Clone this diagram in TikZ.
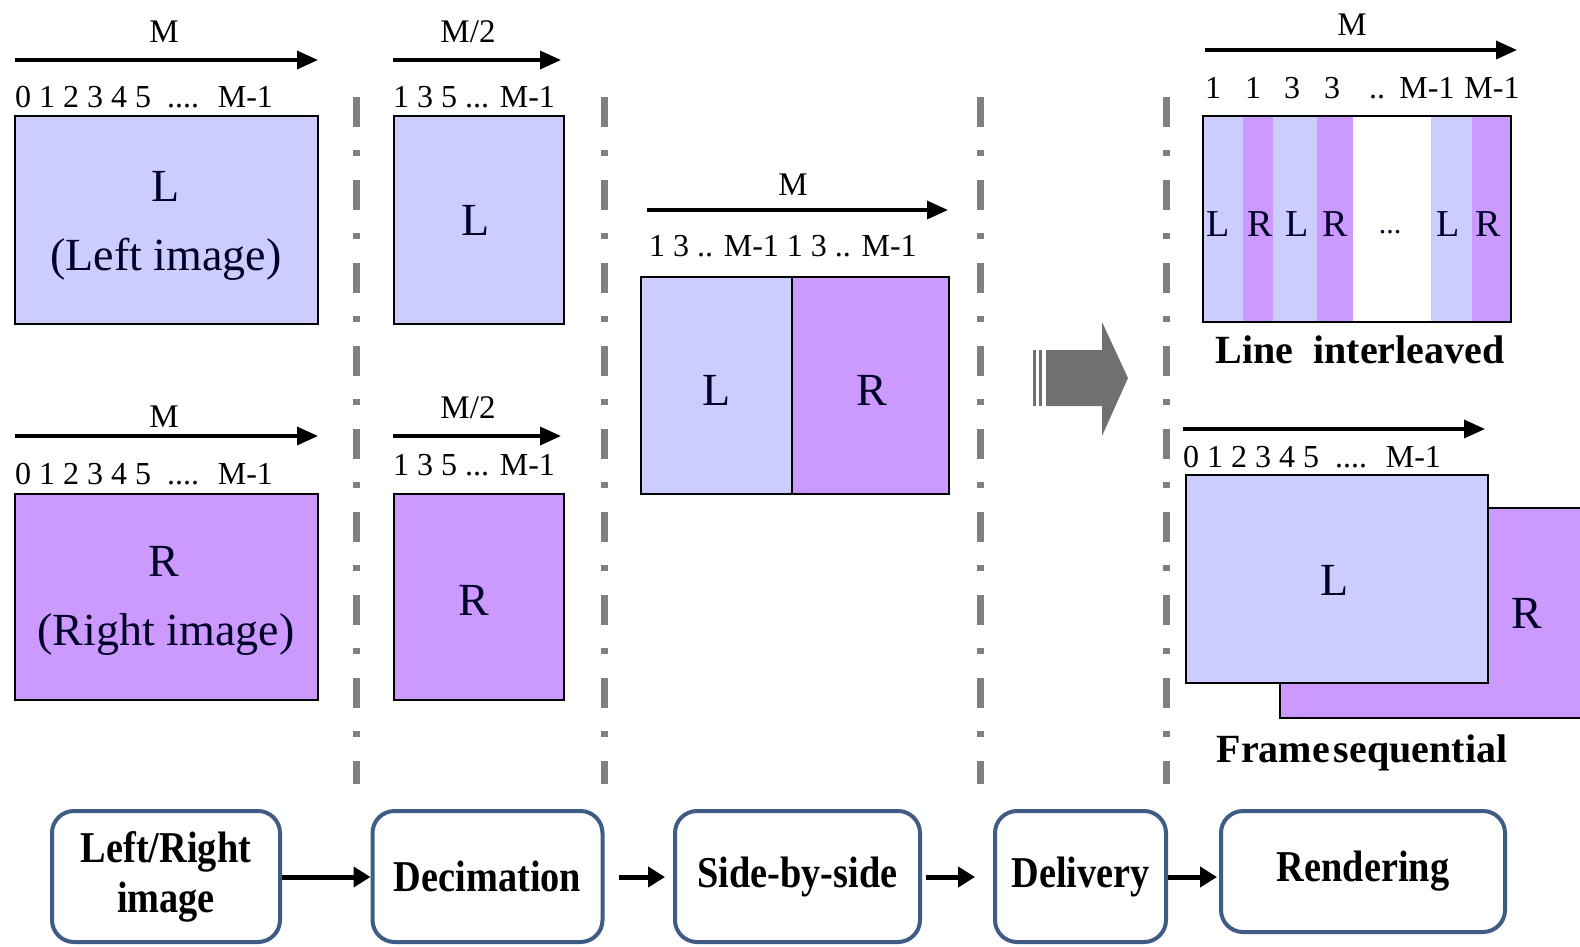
\documentclass[tikz,border=0pt]{standalone}
\usepackage{fontspec}
\setmainfont{Liberation Serif}
\newfontfamily\condfont{Liberation Serif}[FakeStretch=0.87]
\usetikzlibrary{arrows.meta}
\definecolor{lcol}{RGB}{204,204,255}
\definecolor{rcol}{RGB}{204,153,255}
\definecolor{flowcol}{RGB}{62,92,132}
\definecolor{sepcol}{RGB}{128,128,128}
\definecolor{bigarrowcol}{RGB}{112,112,112}
\newcommand\mysz[1]{\fontsize{#1}{#1}\selectfont}
\begin{document}
\begin{tikzpicture}[x=1pt,y=-1pt,
  axislabel/.style={font=\mysz{33}, inner sep=0},
  numlabel/.style={font=\mysz{32}, inner sep=0, anchor=west},
  numc/.style={font=\mysz{32}, inner sep=0},
  biglabel/.style={font=\mysz{46}, inner sep=0, text=black!85!blue},
  midlabel/.style={font=\mysz{38}, inner sep=0, text=black!85!blue},
  dimarrow/.style={line width=3.5pt, -{Triangle[length=21pt,width=18pt]}},
  imgbox/.style={draw=black, line width=2pt},
  sepline/.style={draw=sepcol, line width=7pt, dash pattern=on 30pt off 23pt on 6pt off 24pt},
  flow/.style={draw=flowcol, line width=4pt, rounded corners=22pt, font=\condfont\bfseries\mysz{44}, align=center, fill=white, inner sep=0},
  flowarrow/.style={line width=5pt, -{Triangle[length=17pt,width=20pt]}},
  caption/.style={font=\bfseries\mysz{40}, inner sep=0}
]
\useasboundingbox (0,0) rectangle (1580,946);
\clip (0,0) rectangle (1580,946);
\fill[white] (0,0) rectangle (1580,946);

% separators
\draw[sepline] (356,97) -- (356,784);
\draw[sepline] (604,97) -- (604,784);
\draw[sepline] (980,97) -- (980,784);
\draw[sepline] (1166,97) -- (1166,784);

% ---- Left/right images
\node[axislabel] (mL) at (164,32) {M};
\coordinate (aL1) at (15,60); \coordinate (aL2) at (318,60);
\draw[dimarrow] (aL1) -- (aL2);
\node[numlabel] (nL) at (15,97) {0 1 2 3 4 5\hspace{8pt} ....\hspace{8pt} M-1};
\draw[imgbox, fill=lcol] (15,116) rectangle (318,324);
\node[biglabel] (tL) at (166,186) {L};
\node[biglabel] (tLi) at (166,259) {(Left image)};

\node[axislabel] (mR) at (164,417) {M};
\coordinate (aR1) at (15,436); \coordinate (aR2) at (318,436);
\draw[dimarrow] (aR1) -- (aR2);
\node[numlabel] (nR) at (15,474) {0 1 2 3 4 5\hspace{8pt} ....\hspace{8pt} M-1};
\draw[imgbox, fill=rcol] (15,494) rectangle (318,700);
\node[biglabel] (tR) at (164,561) {R};
\node[biglabel] (tRi) at (166,634) {(Right image)};

% ---- Decimation
\node[axislabel] (mdL) at (468,32) {M/2};
\coordinate (adL1) at (393,60); \coordinate (adL2) at (561,60);
\draw[dimarrow] (adL1) -- (adL2);
\node[numlabel] (ndL) at (393,97) {1 3 5 ... M-1};
\draw[imgbox, fill=lcol] (394,116) rectangle (564,324);
\node[biglabel] (tdL) at (476,220) {L};

\node[axislabel] (mdR) at (468,408) {M/2};
\coordinate (adR1) at (393,436); \coordinate (adR2) at (561,436);
\draw[dimarrow] (adR1) -- (adR2);
\node[numlabel] (ndR) at (393,465) {1 3 5 ... M-1};
\draw[imgbox, fill=rcol] (394,494) rectangle (564,700);
\node[biglabel] (tdR) at (474,600) {R};

% ---- Side-by-side
\node[axislabel] (ms) at (793,185) {M};
\coordinate (as1) at (647,210); \coordinate (as2) at (948,210);
\draw[dimarrow] (as1) -- (as2);
\node[numlabel] (ns) at (649,246) {1 3 .. M-1 1 3 .. M-1};
\fill[lcol] (641,277) rectangle (792,494);
\fill[rcol] (792,277) rectangle (949,494);
\draw[imgbox] (641,277) rectangle (949,494);
\draw[imgbox] (792,277) -- (792,494);
\node[biglabel] (tsL) at (717,390) {L};
\node[biglabel] (tsR) at (872,390) {R};

% ---- big arrow
\fill[bigarrowcol] (1046,350) -- (1102,350) -- (1102,322) -- (1128,378) -- (1102,436) -- (1102,406) -- (1046,406) -- cycle;
\fill[bigarrowcol] (1033,350) rectangle (1036,406);
\fill[bigarrowcol] (1038.5,350) rectangle (1042,406);

% ---- Line interleaved
\node[axislabel] (mi) at (1352,25) {M};
\coordinate (ai1) at (1205,50); \coordinate (ai2) at (1517,50);
\draw[dimarrow] (ai1) -- (ai2);
\node[numc] (ni1) at (1213,88) {1};
\node[numc] (ni2) at (1253,88) {1};
\node[numc] (ni3) at (1292,88) {3};
\node[numc] (ni4) at (1332,88) {3};
\node[numc] (ni5) at (1377,88) {\vphantom{1}..};
\node[numc] (ni6) at (1427,88) {M-1};
\node[numc] (ni7) at (1492,88) {M-1};
\fill[lcol] (1203,116) rectangle (1243,322);
\fill[rcol] (1243,116) rectangle (1273,322);
\fill[lcol] (1273,116) rectangle (1317,322);
\fill[rcol] (1317,116) rectangle (1353,322);
\fill[lcol] (1431,116) rectangle (1472,322);
\fill[rcol] (1472,116) rectangle (1511,322);
\draw[imgbox] (1203,116) rectangle (1511,322);
\node[midlabel] (li1) at (1218,224) {L};
\node[midlabel] (li2) at (1260,224) {R};
\node[midlabel] (li3) at (1297,224) {L};
\node[midlabel] (li4) at (1335,224) {R};
\node[midlabel, font=\mysz{30}] (li5) at (1390,224) {\vphantom{L}...};
\node[midlabel] (li6) at (1448,224) {L};
\node[midlabel] (li7) at (1488,224) {R};
\node[caption] (capi) at (1360,350) {Line\hspace{10pt} interleaved};

% ---- Frame sequential
\coordinate (af1) at (1183,429); \coordinate (af2) at (1485,429);
\draw[dimarrow] (af1) -- (af2);
\node[numlabel] (nf) at (1183,457) {0 1 2 3 4 5\hspace{8pt} ....\hspace{8pt} M-1};
\draw[imgbox, fill=rcol] (1280,508) rectangle (1590,718);
\draw[imgbox, fill=lcol] (1186,475) rectangle (1488,683);
\node[biglabel] (tfL) at (1335,580) {L};
\node[biglabel] (tfR) at (1527,613) {R};
\node[caption] (capf) at (1362,753) {Frame\hspace{4pt}sequential};

% ---- flow
\node[flow, minimum width=228pt, minimum height=131pt] (b1) at (166,876.5) {Left/Right\\[6pt]image};
\node[flow, minimum width=230pt, minimum height=131pt] (b2) at (487.5,876.5) {Decimation};
\node[flow, minimum width=245pt, minimum height=131pt] (b3) at (797.5,876.5) {Side-by-side};
\node[flow, minimum width=171pt, minimum height=131pt] (b4) at (1080.5,876.5) {Delivery};
\node[flow, minimum width=284pt, minimum height=121pt] (b5) at (1363,871.5) {Rendering};
\draw[flowarrow] (b1.east |- 0,877) -- (b2.west |- 0,877);
\draw[flowarrow, shorten <=14pt, shorten >=8pt] (b2.east |- 0,877) -- (b3.west |- 0,877);
\draw[flowarrow, shorten <=4pt, shorten >=18pt] (b3.east |- 0,877) -- (b4.west |- 0,877);
\draw[flowarrow, shorten >=2pt] (b4.east |- 0,877) -- (b5.west |- 0,877);
\end{tikzpicture}
\end{document}
